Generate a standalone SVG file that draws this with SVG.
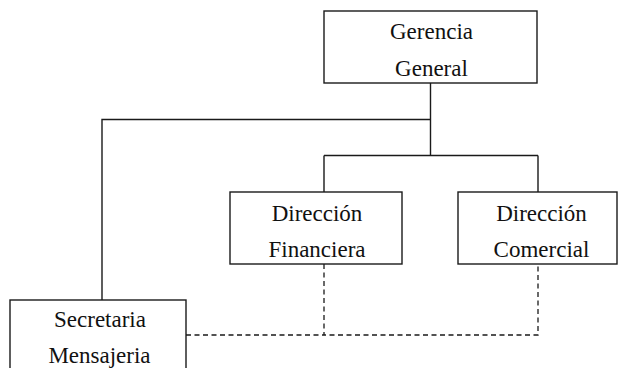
<svg xmlns="http://www.w3.org/2000/svg" width="619" height="368" viewBox="0 0 619 368">
  <style>
    .box { fill: #ffffff; stroke: #1a1a1a; stroke-width: 1.4; }
    .solid { fill: none; stroke: #1a1a1a; stroke-width: 1.4; }
    .dash { fill: none; stroke: #1a1a1a; stroke-width: 1.3; stroke-dasharray: 5 3.5; }
  </style>
  <rect width="619" height="368" fill="#ffffff"/>

  <!-- connectors: solid reporting lines, dashed staff link -->
  <g id="connectors">
    <path class="solid" d="M430.5 83 V155.5 M324 155.5 H538 M324 155.5 V192 M538 155.5 V192"/>
    <path class="solid" d="M430.5 119.5 H102 V300"/>
    <path class="dash" d="M186 335 H324 M324 264 V335 H538 V264"/>
  </g>

  <g font-size="23" fill="#111111" text-anchor="middle">
    <g id="gerencia-general">
      <rect class="box" x="324" y="11" width="213" height="72"/>
      <text x="431.5" y="39" font-family="Liberation Serif">Gerencia</text>
      <text x="431.5" y="76" font-family="Liberation Serif">General</text>
    </g>

    <g id="direccion-financiera">
      <rect class="box" x="230" y="192" width="172" height="72"/>
      <text x="317" y="221" font-family="Liberation Serif">Dirección</text>
      <text x="317" y="257" font-family="Liberation Serif">Financiera</text>
    </g>

    <g id="direccion-comercial">
      <rect class="box" x="458" y="192" width="159" height="72"/>
      <text x="541.5" y="221" font-family="Liberation Serif">Dirección</text>
      <text x="541.5" y="257" font-family="Liberation Serif">Comercial</text>
    </g>

    <g id="secretaria-mensajeria">
      <rect class="box" x="10" y="300" width="176" height="80"/>
      <text x="100" y="327" font-family="Liberation Serif">Secretaria</text>
      <text x="99.5" y="363" font-family="Liberation Serif">Mensajeria</text>
    </g>
  </g>
</svg>
